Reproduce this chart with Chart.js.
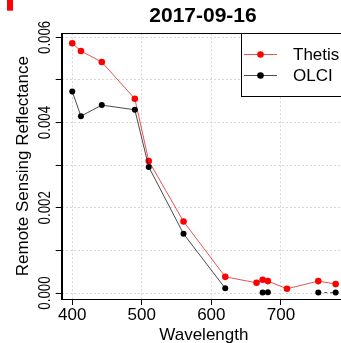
<!DOCTYPE html>
<html>
<head>
<meta charset="utf-8">
<script src="https://cdn.jsdelivr.net/npm/chart.js@4.4.1/dist/chart.umd.min.js"></script>
<style>
  html, body { margin: 0; padding: 0; background: #fff; overflow: hidden; }
  #wrap { width: 350px; height: 343px; position: relative; }
</style>
</head>
<body>
<div id="wrap"><canvas id="rrsChart"></canvas></div>
<script>
var chartTitle = '2017-09-16';
var wavelengths = [400, 412.5, 442.5, 490, 510, 560, 620, 665, 673.75, 681.25, 708.75, 753.75, 778.75];
var thetisRrs = [0.00586, 0.00568, 0.00542, 0.00456, 0.00310, 0.00168, 0.00038, 0.00024, 0.00031, 0.00028, 0.00010, 0.00028, 0.00021];
var olciRrs = [0.00473, 0.00415, 0.00441, 0.00430, 0.00296, 0.00139, 0.00011, null, 0.00001, 0.00002, null, 0.00001, 0.00001];
var xTicks = [400, 500, 600, 700];
var yTicks = [0, 0.001, 0.002, 0.003, 0.004, 0.005, 0.006];
var yLabels = ['0.000', '', '0.002', '', '0.004', '', '0.006'];

var FONT = "'Liberation Sans', Arial, sans-serif";

function toPoints(values) {
    return wavelengths.map(function (w, i) { return { x: w, y: values[i] }; });
}

// title, box, rotated y labels, axis titles and legend
var rPlotPlugin = {
    id: 'rPlot',
    afterDraw: function (chart) {
        var ctx = chart.ctx;
        var a = chart.chartArea;
        var ys = chart.scales.y;
        ctx.save();

        // small red marker in the corner
        ctx.fillStyle = '#ff0000';
        ctx.fillRect(7, 0, 6, 10.7);

        // plot box
        ctx.strokeStyle = '#000';
        ctx.lineWidth = 1;
        ctx.strokeRect(Math.round(a.left) + 0.5, Math.round(a.top) + 0.5, a.right - a.left, Math.round(a.bottom) - Math.round(a.top));

        // title
        ctx.fillStyle = '#000';
        ctx.font = 'bold 21px ' + FONT;
        ctx.textAlign = 'center';
        ctx.textBaseline = 'alphabetic';
        ctx.fillText(chartTitle, 203, 21.7);

        // x axis title
        ctx.font = '17px ' + FONT;
        ctx.fillText('Wavelength', (a.left + a.right) / 2, 340);

        // y tick labels, rotated
        yTicks.forEach(function (v, i) {
            if (!yLabels[i]) return;
            ctx.save();
            ctx.translate(50, ys.getPixelForValue(v));
            ctx.rotate(-Math.PI / 2);
            ctx.scale(0.78, 1);
            ctx.textAlign = 'center';
            ctx.fillText(yLabels[i], 0, 0);
            ctx.restore();
        });

        // y axis title
        ctx.save();
        ctx.translate(28.3, (a.top + a.bottom) / 2);
        ctx.rotate(-Math.PI / 2);
        ctx.textAlign = 'center';
        ctx.fillText('Remote Sensing Reflectance', 0, 0);
        ctx.restore();

        // legend
        ctx.fillStyle = '#fff';
        ctx.fillRect(241, 33.5, 120, 63);
        ctx.strokeStyle = '#000';
        ctx.strokeRect(241.5, 33.5, 120, 63);
        var rows = [54.5, 75.5];
        chart.data.datasets.forEach(function (ds, i) {
            var y = rows[i];
            ctx.strokeStyle = ds.borderColor;
            ctx.lineWidth = 1;
            ctx.beginPath();
            ctx.moveTo(244, y);
            ctx.lineTo(277, y);
            ctx.stroke();
            ctx.fillStyle = ds.pointBackgroundColor;
            ctx.beginPath();
            ctx.arc(260.5, y, 3.3, 0, Math.PI * 2);
            ctx.fill();
            ctx.fillStyle = '#000';
            ctx.font = '17px ' + FONT;
            ctx.textAlign = 'left';
            ctx.textBaseline = 'middle';
            ctx.fillText(ds.label, 293, y + 1);
        });
        ctx.restore();
    }
};

var gridOpts = {
    color: '#d8d8d8',
    tickColor: '#000',
    tickBorderDash: [],
    tickLength: 6,
    lineWidth: 1
};

var ctxChart = document.getElementById('rrsChart');
var rrsChart = new Chart(ctxChart, {
    type: 'scatter',
    data: {
        datasets: [
            {
                label: 'Thetis',
                data: toPoints(thetisRrs),
                showLine: true,
                borderColor: 'rgba(225, 40, 40, 0.8)',
                borderWidth: 1,
                pointBackgroundColor: '#ff0000',
                pointBorderWidth: 0,
                pointRadius: 3.3,
                order: 2
            },
            {
                label: 'OLCI',
                data: toPoints(olciRrs),
                showLine: true,
                spanGaps: false,
                borderColor: 'rgba(30, 30, 30, 0.8)',
                borderWidth: 1,
                pointBackgroundColor: '#000000',
                pointBorderWidth: 0,
                pointRadius: 3,
                segment: {
                    borderDash: function (c) { return c.p0DataIndex === 11 ? [3, 3] : undefined; }
                },
                order: 1
            }
        ]
    },
    options: {
        responsive: true,
        maintainAspectRatio: false,
        animation: false,
        layout: { padding: { top: 33.3, right: 3, bottom: 0, left: 0 } },
        plugins: {
            legend: { display: false },
            title: { display: false },
            tooltip: { enabled: false }
        },
        scales: {
            x: {
                type: 'linear',
                min: 384.85,
                max: 793.6,
                afterBuildTicks: function (scale) {
                    scale.ticks = xTicks.map(function (v) { return { value: v }; });
                },
                afterFit: function (scale) { scale.height = 44; },
                grid: gridOpts,
                border: { display: true, color: '#000', width: 1, dash: [2, 2] },
                ticks: {
                    color: '#000',
                    font: { family: FONT, size: 17 },
                    padding: 0,
                    maxRotation: 0,
                    callback: function (v) { return v; }
                }
            },
            y: {
                type: 'linear',
                min: -0.00014,
                max: 0.006095,
                afterBuildTicks: function (scale) {
                    scale.ticks = yTicks.map(function (v) { return { value: v }; });
                },
                afterFit: function (scale) { scale.width = 61.7; },
                grid: gridOpts,
                border: { display: true, color: '#000', width: 1, dash: [2, 2] },
                ticks: { display: false }
            }
        }
    },
    plugins: [rPlotPlugin]
});
</script>
</body>
</html>
